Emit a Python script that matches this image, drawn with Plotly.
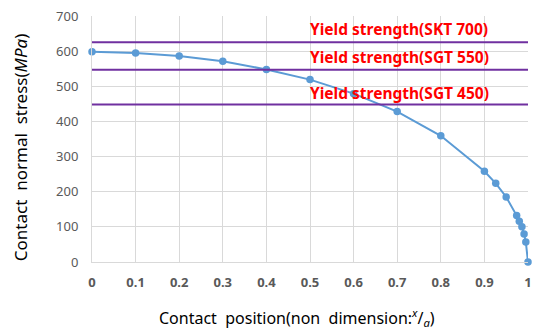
import plotly.graph_objects as go

x_pos = [0, 0.1, 0.2, 0.3, 0.4, 0.5, 0.6, 0.7, 0.8, 0.9, 0.926, 0.95, 0.974, 0.98, 0.986, 0.991, 0.995, 1.0]
stress = [598, 595, 586, 571, 548, 519, 479, 428, 359, 258, 224, 185, 132, 116, 100, 80, 57, 0]

yield_vals = [625, 547, 448]
yield_labels = ["Yield strength(SKT 700)", "Yield strength(SGT 550)", "Yield strength(SGT 450)"]
label_y = [662, 582, 482]

x_ticks = [0, 0.1, 0.2, 0.3, 0.4, 0.5, 0.6, 0.7, 0.8, 0.9, 1]
x_ticktext = ["0", "0.1", "0.2", "0.3", "0.4", "0.5", "0.6", "0.7", "0.8", "0.9", "1"]
y_ticks = [0, 100, 200, 300, 400, 500, 600, 700]

FONT = "Noto Sans"

fig = go.Figure()
fig.add_trace(go.Scatter(
    x=x_pos, y=stress, mode="lines+markers",
    line=dict(color="#5B9BD5", width=2),
    marker=dict(color="#5B9BD5", size=7.5),
    showlegend=False, cliponaxis=False,
))

for v in yield_vals:
    fig.add_shape(type="line", xref="paper", yref="y", x0=0, x1=1, y0=v, y1=v,
                  line=dict(color="#7030A0", width=2))

for t, ly in zip(yield_labels, label_y):
    fig.add_annotation(x=0.495, y=ly, xref="x", yref="y", text="<b>" + t + "</b>",
                       showarrow=False, xanchor="left", yanchor="middle",
                       font=dict(color="#FF0000", size=15.5, family=FONT))

fig.add_annotation(x=-0.165, y=0.463, xref="paper", yref="paper",
                   text="Contact  normal  stress(<i>MPa</i>)", textangle=-90,
                   showarrow=False, xanchor="center", yanchor="middle",
                   font=dict(size=17, color="#000000", family=FONT))
fig.add_annotation(x=0.47, y=-0.225, xref="paper", yref="paper",
                   text="Contact  position(non  dimension:<sup><i>x</i></sup>/<sub><i>a</i></sub>)",
                   showarrow=False, xanchor="center", yanchor="middle",
                   font=dict(size=16, color="#000000", family=FONT))

fig.update_layout(
    width=539, height=330,
    margin=dict(l=92, r=11, t=16, b=68, autoexpand=False),
    plot_bgcolor="white", paper_bgcolor="white",
    font=dict(family=FONT, color="#595959"),
)
fig.update_xaxes(
    range=[0, 1], tickvals=x_ticks, ticktext=["<b>" + s + "</b>" for s in x_ticktext],
    showgrid=True, gridcolor="#D9D9D9", gridwidth=1,
    zeroline=False, showline=True, linecolor="#D9D9D9",
    tickfont=dict(size=13, color="#595959", family=FONT),
    ticks="", ticklabelstandoff=8, automargin=False, ticklabeloverflow="allow",
)
fig.update_yaxes(
    range=[0, 700], tickvals=y_ticks,
    showgrid=True, gridcolor="#D9D9D9", gridwidth=1,
    zeroline=False, showline=True, linecolor="#D9D9D9",
    tickfont=dict(size=13, color="#595959", family=FONT),
    ticks="", ticklabelstandoff=10, tickprefix="<b>", ticksuffix="</b>",
    automargin=False, ticklabeloverflow="allow",
)

fig.write_html("out.html", config={"displayModeBar": False},
               post_script="document.body.style.margin='0';document.body.style.overflow='hidden';")
